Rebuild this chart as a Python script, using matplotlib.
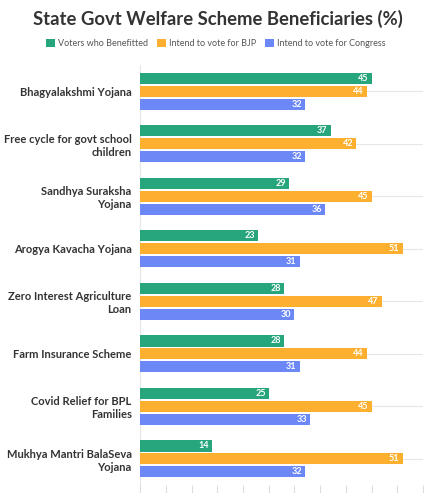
import numpy as np
import matplotlib
matplotlib.use("Agg")
import matplotlib.pyplot as plt

plt.rcParams['font.family'] = ['Lato', 'DejaVu Sans']

schemes = ["Bhagyalakshmi Yojana",
           "Free cycle for govt school\nchildren",
           "Sandhya Suraksha\nYojana",
           "Arogya Kavacha Yojana",
           "Zero Interest Agriculture\nLoan",
           "Farm Insurance Scheme",
           "Covid Relief for BPL\nFamilies",
           "Mukhya Mantri BalaSeva\nYojana"]
benefitted = [45, 37, 29, 23, 28, 28, 25, 14]
bjp = [44, 42, 45, 51, 47, 44, 45, 51]
congress = [32, 32, 36, 31, 30, 31, 33, 32]

series_names = ["Voters who Benefitted", "Intend to vote for BJP", "Intend to vote for Congress"]
colors = ["#27a57d", "#fdb030", "#6b88f6"]

fig = plt.figure(figsize=(4.27, 4.93), dpi=100)
ax = fig.add_axes([0.328, 0.016, 0.663, 0.852])

y = np.arange(len(schemes))
h = 0.21
step = 0.245
for k, (vals, col, name) in enumerate(zip([benefitted, bjp, congress], colors, series_names)):
    pos = y + (k - 1) * step
    bars = ax.barh(pos, vals, height=h, color=col, label=name, zorder=3)
    for b, v in zip(bars, vals):
        ax.text(b.get_width() - 0.6, b.get_y() + h / 2, str(v), ha='right', va='center',
                color='white', fontsize=6.5, fontweight='bold', zorder=4)

ax.set_ylim(len(schemes) - 0.5, -0.5)
ax.set_xlim(0, 55)
ax.set_yticks(y)
ax.set_yticklabels(schemes, fontsize=8, fontweight='bold', color='#333333')
ax.set_xticks(np.arange(0, 56, 5))
ax.set_xticklabels([])
ax.tick_params(axis='y', length=0, pad=6)
ax.tick_params(axis='x', length=6, color='#dddddd', direction='out')
ax.grid(axis='y', color='#e6e6e6', linewidth=0.8, zorder=0)
for s in ['top', 'right', 'bottom']:
    ax.spines[s].set_visible(False)
ax.spines['left'].set_color('#e6e6e6')

fig.text(0.51, 0.962, "State Govt Welfare Scheme Beneficiaries (%)", ha='center', va='center',
         fontsize=13.3, fontweight='bold', color='#333333')
fig.legend(loc='center', bbox_to_anchor=(0.505, 0.912), ncol=3, frameon=False, fontsize=6.5,
           handlelength=1.0, handleheight=1.0, handletextpad=0.3, columnspacing=1.0,
           labelcolor='#555555')

fig.savefig("out.png", dpi=100)
